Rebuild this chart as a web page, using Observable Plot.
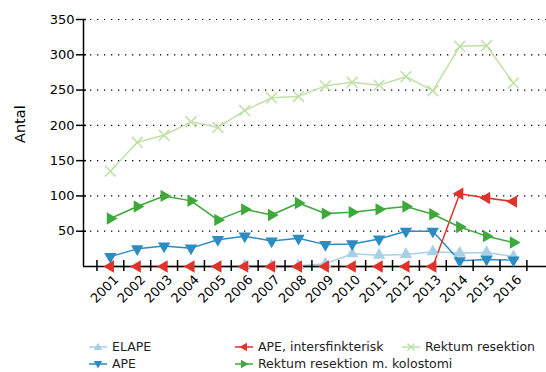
<!DOCTYPE html>
<html>
<head>
<meta charset="utf-8">
<script src="https://cdn.jsdelivr.net/npm/d3@7"></script>
<script src="https://cdn.jsdelivr.net/npm/@observablehq/plot@0.6"></script>
<style>
  body { margin: 0; background: #fff; font-family: "DejaVu Sans", Verdana, sans-serif; }
  #wrap { position: relative; width: 546px; height: 372px; overflow: hidden; }
  #legend { position: absolute; left: 0; top: 0; width: 546px; height: 372px; pointer-events: none; }
  .li { position: absolute; font-size: 12.5px; color: #222; display: flex; align-items: center; white-space: nowrap; }
  .li svg { margin-right: 5px; }
</style>
</head>
<body>
<div id="wrap"></div>
<script>
const years = [2001,2002,2003,2004,2005,2006,2007,2008,2009,2010,2011,2012,2013,2014,2015,2016];
const elape = [null,null,null,null,null,1,1,1,4,18,16,17,21,19,20,14];
const ape = [14,25,29,26,38,43,36,40,31,32,39,50,50,8,10,9];
const apeInter = [0,0,0,0,0,0,0,0,0,0,0,0,0,103,97,92];
const rektumKol = [68,85,100,93,66,81,73,90,75,77,81,85,74,56,43,34];
const rektum = [135,176,186,205,197,221,239,241,256,261,257,269,249,312,313,260];
const yTicks = [50,100,150,200,250,300,350];

const seriesDefs = [
  {name: "ELAPE", values: elape, color: "#a8cfe5", symbol: "triangle", rotate: 0},
  {name: "APE", values: ape, color: "#2b8bc3", symbol: "triangle", rotate: 180},
  {name: "APE, intersfinkterisk", values: apeInter, color: "#e2312b", symbol: "triangle", rotate: -90},
  {name: "Rektum resektion m. kolostomi", values: rektumKol, color: "#3ca93a", symbol: "triangle", rotate: 90},
  {name: "Rektum resektion", values: rektum, color: "#bfe0a6", symbol: "times", rotate: 0}
];

const bounds = years.map(y => y - 0.5).concat([years[years.length - 1] + 0.5]);

const marks = [];
marks.push(Plot.ruleY(yTicks, {stroke: "#000", strokeDasharray: "1.3,5.7", strokeWidth: 1.2}));
for (const s of seriesDefs) {
  const data = years.map((y, i) => ({year: y, value: s.values[i]})).filter(d => d.value != null);
  marks.push(Plot.line(data, {x: "year", y: "value", stroke: s.color, strokeWidth: 1.5}));
}
marks.push(Plot.ruleY([0], {stroke: "#000", strokeWidth: 1.5}));
marks.push(Plot.ruleX([2000], {y1: 0, y2: 350, stroke: "#000", strokeWidth: 1.5}));
for (const s of seriesDefs) {
  const data = years.map((y, i) => ({year: y, value: s.values[i]})).filter(d => d.value != null);
  if (s.symbol === "times") {
    marks.push(Plot.dot(data, {x: "year", y: "value", symbol: "times", r: 5, stroke: s.color, strokeWidth: 1.5}));
  } else {
    marks.push(Plot.dot(data, {x: "year", y: "value", symbol: "triangle", r: 4.6, fill: s.color, stroke: "none", rotate: s.rotate}));
  }
}
marks.push(Plot.axisY(yTicks, {tickSize: 10, dx: 3, tickPadding: 2, fontSize: 13, label: null, strokeWidth: 1.5}));
marks.push(Plot.axisX(bounds, {tickSize: 11, dy: -6, tickFormat: () => "", label: null, strokeWidth: 1.5}));
marks.push(Plot.axisX(years, {tickSize: 0, tickRotate: -45, tickPadding: 11, dx: 6, fontSize: 13, tickFormat: d => String(d), label: null}));
marks.push(Plot.text(["Antal"], {frameAnchor: "left", rotate: -90, dx: -63, fontSize: 14.5, fill: "#000"}));

const chart = Plot.plot({
  width: 546,
  height: 318,
  marginTop: 19,
  marginBottom: 52,
  marginLeft: 83,
  marginRight: 0,
  style: {fontFamily: "'DejaVu Sans', Verdana, sans-serif", color: "#000", background: "#fff"},
  x: {type: "linear", domain: [2000, 2017.23]},
  y: {type: "linear", domain: [0, 350]},
  marks
});
const wrap = document.getElementById("wrap");
wrap.appendChild(chart);

// legend
const legend = document.createElement("div");
legend.id = "legend";
const legendPos = [
  {left: 89, top: 339},
  {left: 89, top: 356},
  {left: 235, top: 339},
  {left: 235, top: 356},
  {left: 402, top: 339}
];
const symPath = {
  triangle: "M0,-4.5L4.2,3L-4.2,3Z",
  times: "M-3.5,-3.5L3.5,3.5M-3.5,3.5L3.5,-3.5"
};
seriesDefs.forEach((s, i) => {
  const p = legendPos[i];
  const el = document.createElement("div");
  el.className = "li";
  el.style.left = p.left + "px";
  el.style.top = p.top + "px";
  const svgNS = "http://www.w3.org/2000/svg";
  const svg = document.createElementNS(svgNS, "svg");
  svg.setAttribute("width", 18);
  svg.setAttribute("height", 14);
  const line = document.createElementNS(svgNS, "line");
  line.setAttribute("x1", 0); line.setAttribute("x2", 18);
  line.setAttribute("y1", 7); line.setAttribute("y2", 7);
  line.setAttribute("stroke", s.color); line.setAttribute("stroke-width", 1.5);
  svg.appendChild(line);
  const path = document.createElementNS(svgNS, "path");
  path.setAttribute("d", symPath[s.symbol]);
  path.setAttribute("transform", `translate(9,7) rotate(${s.rotate})`);
  if (s.symbol === "times") { path.setAttribute("stroke", s.color); path.setAttribute("stroke-width", 1.5); path.setAttribute("fill", "none"); }
  else { path.setAttribute("fill", s.color); }
  svg.appendChild(path);
  el.appendChild(svg);
  const t = document.createElement("span");
  t.textContent = s.name;
  el.appendChild(t);
  legend.appendChild(el);
});
wrap.appendChild(legend);
</script>
</body>
</html>
